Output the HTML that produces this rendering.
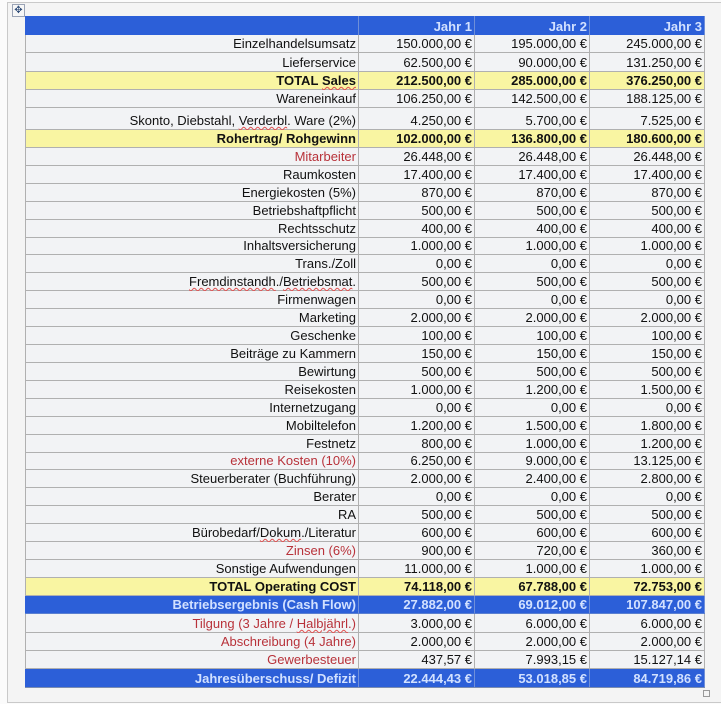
<!DOCTYPE html>
<html><head><meta charset="utf-8">
<style>
html,body{margin:0;padding:0;}
body{width:721px;height:704px;background:#fbfbfb;position:relative;overflow:hidden;font-family:"Liberation Sans",Arial,sans-serif;font-size:13px;color:#111;}
.frame{position:absolute;left:7px;top:2px;width:716px;height:699px;border-top:1px solid #c9c9c9;border-left:1px solid #c9c9c9;border-bottom:1px solid #c9c9c9;background:#f4f4f4;}
.mv{position:absolute;left:12px;top:4px;width:11px;height:11px;border:1px solid #9aa3b5;background:#f7f7f7;font-size:10px;line-height:11px;text-align:center;color:#34507a;}
.sq{position:absolute;left:703px;top:690px;width:5px;height:5px;border:1px solid #999;}
.blog{position:absolute;left:40px;top:653px;font-size:9px;color:#d4d4d4;}
.r{position:absolute;left:25px;width:680px;box-sizing:border-box;border-bottom:1px solid #b0b0b0;display:flex;background:#f2f3f5;}
.r>div{box-sizing:border-box;border-right:1px solid #b0b0b0;height:100%;display:flex;align-items:flex-end;justify-content:flex-end;padding:0 2px 1px 0;line-height:14px;white-space:nowrap;}
.r>div:nth-child(1){width:334px;border-left:1px solid #b0b0b0;}
.r>div:nth-child(2){width:116px;}
.r>div:nth-child(3){width:115px;}
.r>div:nth-child(4){width:115px;}
.y{background:#f9f5a2;font-weight:bold;}
.b{background:#2c5fd8;font-weight:bold;color:#d2e1ff;border-bottom-color:#5a7fd0;}
.b>div{border-right-color:#6f8fd8 !important;}
.b>div:nth-child(1){border-left-color:#2c5fd8 !important;}
.red>div:nth-child(1){color:#b8323a;}
.sp{text-decoration:underline wavy #e05050;text-decoration-thickness:1px;text-underline-offset:1px;}
</style></head>
<body>
<div class="frame"></div>
<div class="mv">✥</div>
<div class="blog">Blog</div>
<div class="sq"></div>

<div class="r b" style="top:16px;height:19px;border-bottom:none;"><div></div><div>Jahr 1</div><div>Jahr 2</div><div>Jahr 3</div></div>
<div class="r" style="top:35px;height:18px;"><div>Einzelhandelsumsatz</div><div>150.000,00 €</div><div>195.000,00 €</div><div>245.000,00 €</div></div>
<div class="r" style="top:53px;height:19px;"><div>Lieferservice</div><div>62.500,00 €</div><div>90.000,00 €</div><div>131.250,00 €</div></div>
<div class="r y" style="top:72px;height:18px;"><div>TOTAL&nbsp;<span class="sp">Sales</span></div><div>212.500,00 €</div><div>285.000,00 €</div><div>376.250,00 €</div></div>
<div class="r" style="top:90px;height:18px;"><div>Wareneinkauf</div><div>106.250,00 €</div><div>142.500,00 €</div><div>188.125,00 €</div></div>
<div class="r" style="top:108px;height:22px;"><div>Skonto, Diebstahl,&nbsp;<span class="sp">Verderbl</span>. Ware (2%)</div><div>4.250,00 €</div><div>5.700,00 €</div><div>7.525,00 €</div></div>
<div class="r y" style="top:130px;height:18px;"><div>Rohertrag/ Rohgewinn</div><div>102.000,00 €</div><div>136.800,00 €</div><div>180.600,00 €</div></div>
<div class="r red" style="top:148px;height:18px;"><div>Mitarbeiter</div><div>26.448,00 €</div><div>26.448,00 €</div><div>26.448,00 €</div></div>
<div class="r" style="top:166px;height:18px;"><div>Raumkosten</div><div>17.400,00 €</div><div>17.400,00 €</div><div>17.400,00 €</div></div>
<div class="r" style="top:184px;height:18px;"><div>Energiekosten (5%)</div><div>870,00 €</div><div>870,00 €</div><div>870,00 €</div></div>
<div class="r" style="top:202px;height:18px;"><div>Betriebshaftpflicht</div><div>500,00 €</div><div>500,00 €</div><div>500,00 €</div></div>
<div class="r" style="top:220px;height:18px;"><div>Rechtsschutz</div><div>400,00 €</div><div>400,00 €</div><div>400,00 €</div></div>
<div class="r" style="top:238px;height:17px;"><div>Inhaltsversicherung</div><div>1.000,00 €</div><div>1.000,00 €</div><div>1.000,00 €</div></div>
<div class="r" style="top:255px;height:18px;"><div>Trans./Zoll</div><div>0,00 €</div><div>0,00 €</div><div>0,00 €</div></div>
<div class="r" style="top:273px;height:18px;"><div><span class="sp">Fremdinstandh</span>./<span class="sp">Betriebsmat</span>.</div><div>500,00 €</div><div>500,00 €</div><div>500,00 €</div></div>
<div class="r" style="top:291px;height:18px;"><div>Firmenwagen</div><div>0,00 €</div><div>0,00 €</div><div>0,00 €</div></div>
<div class="r" style="top:309px;height:18px;"><div>Marketing</div><div>2.000,00 €</div><div>2.000,00 €</div><div>2.000,00 €</div></div>
<div class="r" style="top:327px;height:18px;"><div>Geschenke</div><div>100,00 €</div><div>100,00 €</div><div>100,00 €</div></div>
<div class="r" style="top:345px;height:18px;"><div>Beiträge zu Kammern</div><div>150,00 €</div><div>150,00 €</div><div>150,00 €</div></div>
<div class="r" style="top:363px;height:18px;"><div>Bewirtung</div><div>500,00 €</div><div>500,00 €</div><div>500,00 €</div></div>
<div class="r" style="top:381px;height:18px;"><div>Reisekosten</div><div>1.000,00 €</div><div>1.200,00 €</div><div>1.500,00 €</div></div>
<div class="r" style="top:399px;height:18px;"><div>Internetzugang</div><div>0,00 €</div><div>0,00 €</div><div>0,00 €</div></div>
<div class="r" style="top:417px;height:18px;"><div>Mobiltelefon</div><div>1.200,00 €</div><div>1.500,00 €</div><div>1.800,00 €</div></div>
<div class="r" style="top:435px;height:18px;"><div>Festnetz</div><div>800,00 €</div><div>1.000,00 €</div><div>1.200,00 €</div></div>
<div class="r red" style="top:453px;height:17px;"><div>externe Kosten (10%)</div><div>6.250,00 €</div><div>9.000,00 €</div><div>13.125,00 €</div></div>
<div class="r" style="top:470px;height:18px;"><div>Steuerberater (Buchführung)</div><div>2.000,00 €</div><div>2.400,00 €</div><div>2.800,00 €</div></div>
<div class="r" style="top:488px;height:18px;"><div>Berater</div><div>0,00 €</div><div>0,00 €</div><div>0,00 €</div></div>
<div class="r" style="top:506px;height:18px;"><div>RA</div><div>500,00 €</div><div>500,00 €</div><div>500,00 €</div></div>
<div class="r" style="top:524px;height:18px;"><div>Bürobedarf/<span class="sp">Dokum</span>./Literatur</div><div>600,00 €</div><div>600,00 €</div><div>600,00 €</div></div>
<div class="r red" style="top:542px;height:18px;"><div>Zinsen (6%)</div><div>900,00 €</div><div>720,00 €</div><div>360,00 €</div></div>
<div class="r" style="top:560px;height:18px;"><div>Sonstige Aufwendungen</div><div>11.000,00 €</div><div>1.000,00 €</div><div>1.000,00 €</div></div>
<div class="r y" style="top:578px;height:18px;"><div>TOTAL Operating COST</div><div>74.118,00 €</div><div>67.788,00 €</div><div>72.753,00 €</div></div>
<div class="r b" style="top:596px;height:18px;"><div>Betriebsergebnis (Cash Flow)</div><div>27.882,00 €</div><div>69.012,00 €</div><div>107.847,00 €</div></div>
<div class="r red" style="top:614px;height:19px;"><div>Tilgung (3 Jahre /&nbsp;<span class="sp">Halbjährl</span>.)</div><div>3.000,00 €</div><div>6.000,00 €</div><div>6.000,00 €</div></div>
<div class="r red" style="top:633px;height:18px;"><div>Abschreibung (4 Jahre)</div><div>2.000,00 €</div><div>2.000,00 €</div><div>2.000,00 €</div></div>
<div class="r red" style="top:651px;height:18px;"><div>Gewerbesteuer</div><div>437,57 €</div><div>7.993,15 €</div><div>15.127,14 €</div></div>
<div class="r b" style="top:669px;height:19px;border-bottom:1px solid #7a8cb0;"><div>Jahresüberschuss/ Defizit</div><div>22.444,43 €</div><div>53.018,85 €</div><div>84.719,86 €</div></div>
</body></html>
